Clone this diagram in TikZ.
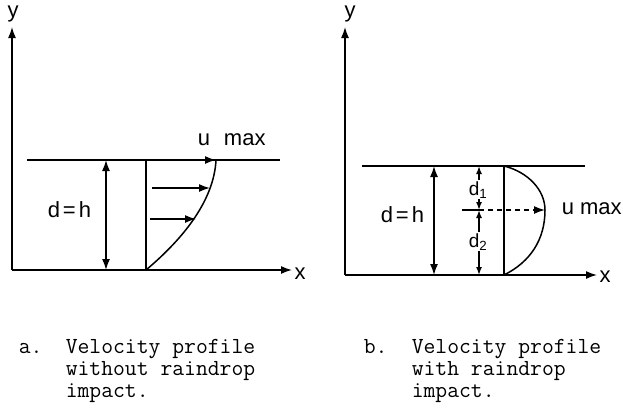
\documentclass[tikz,border=0pt]{standalone}
\usepackage{fontspec}
\newfontfamily\lblfont{Liberation Sans}
\usetikzlibrary{arrows.meta}
\begin{document}
\begin{tikzpicture}[x=1pt, y=-1pt, line width=1.5pt, >={Latex[length=11pt,width=8pt]},
    lbl/.style={font=\lblfont\fontsize{22}{24}\selectfont, inner sep=0pt},
    sub/.style={font=\lblfont\fontsize{19}{20}\selectfont, inner sep=1pt, fill=white},
    captext/.style={font=\ttfamily\fontsize{23}{22}\selectfont, align=left, anchor=north west, inner sep=0pt}]
  \useasboundingbox (0,0) rectangle (623,410);

  % (a) without raindrop impact
  \coordinate (oA) at (12,270);
  \coordinate (yA) at (12,27);
  \coordinate (xA) at (292,270);
  \draw[->] (oA) -- (yA);
  \draw[->] (oA) -- (xA);
  \node[lbl] (ylA) at (13,14) {y};
  \node[lbl] (xlA) at (300,274) {x};

  % water surface and depth
  \coordinate (sLA) at (27,160);
  \coordinate (sRA) at (280,160);
  \draw (sLA) -- (sRA);
  \coordinate (dTA) at (106,160);
  \coordinate (dBA) at (106,270);
  \draw[<->] (dTA) -- (dBA);
  \node[lbl, anchor=base west] (dhA) at (47,217) {d\hspace{3pt}=\hspace{3pt}h};

  % velocity profile
  \coordinate (vTA) at (146,160);
  \coordinate (vBA) at (146,270);
  \coordinate (cTA) at (216,160);
  \draw (vTA) -- (vBA);
  \draw (vBA) .. controls (184,238) and (214,200) .. (cTA);
  \coordinate (a1s) at (152,188);
  \coordinate (a1e) at (210,188);
  \coordinate (a2s) at (150,219);
  \coordinate (a2e) at (196,219);
  \draw[->] (vTA) -- (cTA);
  \draw[->] (a1s) -- (a1e);
  \draw[->] (a2s) -- (a2e);
  \node[lbl, anchor=base west] (umA) at (197,145) {u\hspace{14pt}max};

  % (b) with raindrop impact
  \coordinate (oB) at (345,275);
  \coordinate (yB) at (345,27);
  \coordinate (xB) at (597,275);
  \draw[->] (oB) -- (yB);
  \draw[->] (oB) -- (xB);
  \node[lbl] (ylB) at (350,14) {y};
  \node[lbl] (xlB) at (605,277) {x};

  % water surface and depths
  \coordinate (sLB) at (362,166);
  \coordinate (sRB) at (585,166);
  \draw (sLB) -- (sRB);
  \coordinate (dTB) at (434,166);
  \coordinate (dBB) at (434,275);
  \draw[<->] (dTB) -- (dBB);
  \node[lbl, anchor=base west] (dhB) at (380,222) {d\hspace{3pt}=\hspace{3pt}h};
  \coordinate (d1T) at (479,166);
  \coordinate (d1M) at (479,210);
  \coordinate (d2B) at (479,275);
  \draw[<->, >={Latex[length=8pt,width=6pt]}] (d1T) -- (d1M);
  \draw[<->, >={Latex[length=8pt,width=6pt]}] (d1M) -- (d2B);
  \node[sub, anchor=base west] (d1) at (467,195) {d\textsubscript{1}};
  \node[sub, anchor=base west] (d2) at (467,247) {d\textsubscript{2}};

  % velocity profile
  \coordinate (vTB) at (504,166);
  \coordinate (vBB) at (504,275);
  \coordinate (cMB) at (545,210);
  \draw (vTB) -- (vBB);
  \draw (vTB) .. controls (528,172) and (545,190) .. (cMB)
              .. controls (545,240) and (530,262) .. (vBB);
  \coordinate (hsB) at (462,210);
  \draw (hsB) -- (d1M);
  \draw[->, dashed, dash pattern=on 5pt off 4pt] (d1M) -- (cMB);
  \node[lbl, anchor=base west] (umB) at (561,214) {u max};

  % captions
  \node[captext] (capA) at (65,339) {Velocity profile\\without raindrop\\impact.};
  \node[captext, anchor=base west] (capAl) at (18,353) {a.};
  \node[captext] (capB) at (411,339) {Velocity profile\\with raindrop\\impact.};
  \node[captext, anchor=base west] (capBl) at (363,353) {b.};
\end{tikzpicture}
\end{document}
